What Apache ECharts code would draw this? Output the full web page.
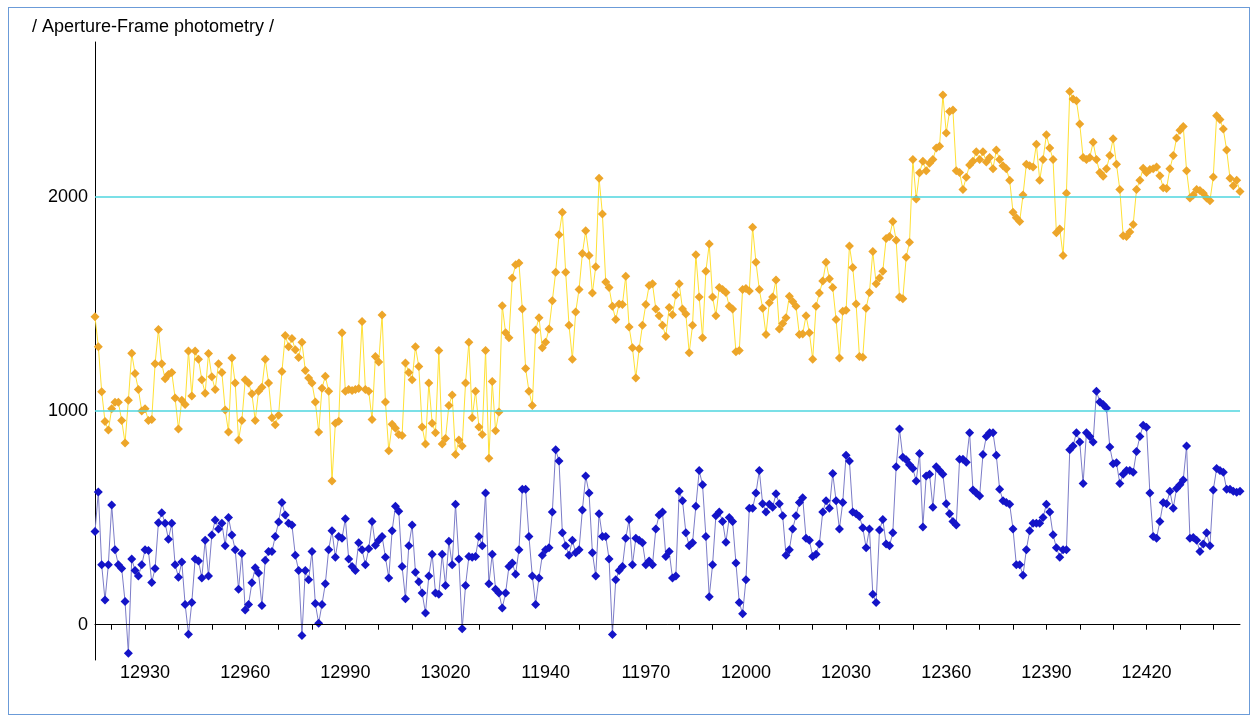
<!DOCTYPE html>
<html>
<head>
<meta charset="utf-8">
<script src="https://cdn.jsdelivr.net/npm/echarts@6/dist/echarts.min.js"></script>
<style>
html,body{margin:0;padding:0;background:#fff;}
#wrap{position:relative;width:1257px;height:721px;}
#chart{position:absolute;left:0;top:0;width:1257px;height:721px;}
#frame{position:absolute;left:8px;top:7px;width:1240px;height:706px;border:1px solid #6b9bd8;pointer-events:none;}
</style>
</head>
<body>
<div id="wrap"><div id="chart"></div><div id="frame"></div></div>
<script>
// frame-number segments (three image sequences joined)
var segStart = [12915, 11927, 12350];

// Aperture photometry (yellow/orange series)
var starSeg1 = [1440,1300,1090,950,910,1010,1040,1040,955,850,1050,1270,1175,1100,1000,1010,955,960,1220,1380,1220,1150,1170,1180,1060,915,1050,1030,1280,1070,1280,
1242,1145,1083,1268,1159,1100,1220,1180,1004,901,1247,1130,864,955,1145,1130,1080,955,1092,1110,1242,1130,968,935,980,1184,1353,1300,1339,1286,1250,
1321,1189,1154,1130,1042,901,1106,1162,1092,672,942,951,1365,1092,1100,1095,1100,1105,1418,1100,1092,960,1254,1229,1448,1042,813,937,919,890,885,1224,
1180,1145,1300,1207,925,845,1130,942,898,1282,845,871,1025,1074,796,864,836,1130,1321,968,1092,925,890,1282,778,1137,907,995];
var starSeg2 = [1492,1365,1342,1621,
1683,1692,1476,1198,1092,1025,1378,1436,1295,1321,1383,1515,1648,1824,1929,1648,1400,1242,1462,1568,1736,1842,1727,1551,1674,2088,1921,1603,1577,1489,
1427,1500,1498,1630,1392,1295,1154,1290,1400,1498,1586,1595,1476,1445,1400,1348,1484,1449,1542,1595,1476,1453,1272,1400,1730,1533,1342,1653,1780,1533,1445,1577,
1568,1554,1489,1476,1277,1282,1568,1572,1560,1859,1695,1568,1480,1357,1506,1533,1612,1383,1409,1436,1536,1512,1489,1357,1360,1445,1365,1242,1489,1551,1607,1695,
1618,1577,1427,1247,1466,1471,1771,1670,1500,1254,1251,1480,1554,1745,1595,1621,1653,1806,1815,1886,1798,1533,1524,1718,1789];
var starSeg3 = [2176,1991,2114,2167,2123,2158,2176,
2229,2238,2477,2300,2400,2407,2123,2115,2035,2093,2150,2167,2212,2176,2212,2164,2185,2132,2220,2176,2146,2132,2079,1929,1903,1886,2009,2153,2146,2141,2247,
2079,2176,2291,2229,2176,1833,1851,1727,2018,2494,2459,2450,2341,2185,2176,2185,2256,2176,2115,2097,2132,2194,2273,2153,2035,1819,1815,1836,1871,2035,2079,2135,
2115,2129,2132,2141,2100,2044,2040,2132,2194,2276,2312,2330,2123,1996,2009,2035,2030,2018,1996,1983,2094,2380,2362,2318,2220,2088,2053,2079,2026];

// Frame (blue series)
var frameSeg1 = [436,621,280,115,280,560,351,280,263,108,-134,307,254,228,280,351,347,198,263,477,524,475,400,475,280,222,293,95,-44,104,307,
298,219,395,228,420,490,448,475,369,501,420,351,166,333,69,95,196,266,242,90,302,342,342,413,480,572,513,475,466,325,254,-51,
254,210,342,99,7,95,192,351,439,316,413,404,496,307,272,254,383,351,280,355,483,372,395,413,316,219,439,554,531,272,122,
369,466,245,201,148,55,228,330,148,143,330,183,390,280,563,307,-19,183,319,316,319,413,369,616,192,330,166,148];
var frameSeg2 = [78,148,272,289,
236,351,633,633,413,228,95,219,325,351,360,527,818,766,430,369,325,395,337,351,536,695,616,337,228,519,413,413,307,-46,
210,254,272,404,492,280,404,395,383,280,298,280,448,513,527,319,342,219,228,624,580,430,369,383,554,721,654,413,131,280,510,527,
483,386,501,483,289,104,51,210,545,545,616,721,566,527,563,549,612,566,510,325,351,448,510,572,594,404,395,319,330,377,527,580,
545,707,580,448,572,792,766,527,519,506,453,360,448,143,104,443,492,377,369,430,739,915,783,771,748];
var frameSeg3 = [730,672,801,457,695,704,549,
739,721,704,566,519,483,466,774,774,760,898,630,616,602,796,880,898,898,792,633,580,572,563,448,280,280,231,351,439,475,475,
475,501,563,527,421,360,316,351,351,818,836,898,854,660,898,880,854,1092,1042,1030,1013,831,753,757,660,704,721,721,713,810,880,933,
924,616,413,404,483,572,566,624,545,637,654,677,836,404,408,395,342,377,430,369,630,730,721,713,633,633,624,619,624];

var yTickLabels = [0, 1000, 2000];
var refLines = [0, 1000, 2000];

var starData = starSeg1.concat(starSeg2, starSeg3);
var frameData = frameSeg1.concat(frameSeg2, frameSeg3);
var segLen = [starSeg1.length, starSeg2.length, starSeg3.length];
var categories = [];
for (var s = 0; s < segStart.length; s++) {
  for (var k = 0; k < segLen[s]; k++) categories.push(String(segStart[s] + k));
}

var chart = echarts.init(document.getElementById('chart'), null, {renderer: 'canvas'});
var FONT = 'Liberation Sans';
chart.setOption({
  animation: false,
  backgroundColor: '#ffffff',
  title: {
    text: '/ Aperture-Frame photometry /',
    left: 32, top: 18, padding: 0,
    textStyle: {fontFamily: FONT, fontSize: 18, fontWeight: 'normal', color: '#000'}
  },
  grid: {left: 95, right: 17, top: 42, bottom: 61, containLabel: false},
  xAxis: {
    type: 'category',
    data: categories,
    boundaryGap: false,
    axisLine: {show: true, lineStyle: {color: '#000', width: 1}},
    axisTick: {
      show: true, length: 5, lineStyle: {color: '#000'},
      interval: function (i, v) { return (+v) % 10 === 0; }
    },
    axisLabel: {
      show: true, margin: 4, color: '#000', fontFamily: FONT, fontSize: 18,
      interval: function (i, v) { return (+v) % 30 === 0; }
    },
    splitLine: {show: false}
  },
  yAxis: {
    type: 'value',
    min: -165, max: 2725,
    axisLine: {show: true, lineStyle: {color: '#000', width: 1}},
    axisTick: {show: false},
    axisLabel: {
      show: true, margin: 7, color: '#000', fontFamily: FONT, fontSize: 18,
      customValues: yTickLabels,
      formatter: function (v) { return String(v); }
    },
    splitLine: {show: false}
  },
  series: [
    {
      type: 'line', data: [], z: 1, silent: true, symbol: 'none',
      markLine: {
        silent: true, symbol: ['none', 'none'], label: {show: false}, animation: false,
        data: refLines.map(function (v) {
          return {yAxis: v, lineStyle: {type: 'solid', width: v === 0 ? 1 : 1.5, color: v === 0 ? '#000000' : '#4fd6df'}};
        })
      }
    },
    {
      name: 'Frame', type: 'line', data: frameData, z: 3,
      symbol: 'diamond', symbolSize: 9, showAllSymbol: true,
      lineStyle: {color: '#7c7cc8', width: 1},
      itemStyle: {color: '#1414c8', borderWidth: 0}
    },
    {
      name: 'Aperture', type: 'line', data: starData, z: 4,
      symbol: 'diamond', symbolSize: 9, showAllSymbol: true,
      lineStyle: {color: '#ffe135', width: 1},
      itemStyle: {color: '#eda62a', borderWidth: 0}
    }
  ]
});
</script>
</body>
</html>
